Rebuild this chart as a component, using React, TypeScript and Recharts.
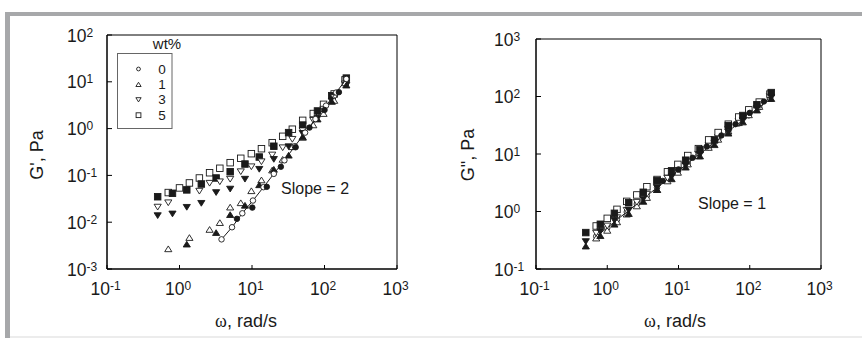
import { ScatterChart, Scatter, XAxis, YAxis, ReferenceArea } from 'recharts'

const SANS = '"Liberation Sans", Arial, sans-serif'
const SERIF = '"Liberation Serif", "Times New Roman", serif'
const INK = '#1a1a1a'

// frequency grids, rad/s
const wOdd = [0.7, 1.0, 1.37, 1.88, 2.6, 3.6, 5.0, 7.0, 9.8, 13.5, 19, 26.5, 36, 50, 70, 97, 136, 192]
const wEven = [0.5, 0.8, 1.26, 2.0, 3.2, 5.0, 8.0, 12.6, 20, 32, 50, 80, 126, 200]

const xTicks = [0.1, 1, 10, 100, 1000]
const gpTicks = [0.001, 0.01, 0.1, 1, 10, 100]
const gppTicks = [0.1, 1, 10, 100, 1000]

// G', Pa
const gp0OpenW = [3.8, 5.3, 7.35, 10.3, 14.4, 20, 28, 39, 54, 75, 105, 145, 200]
const gp0Open = [0.0043, 0.0078, 0.0155, 0.029, 0.056, 0.108, 0.21, 0.42, 0.82, 1.6, 3.1, 5.9, 11.5]
const gp0FilledW = [6.2, 10.1, 16, 25, 40, 62, 100, 158]
const gp0Filled = [0.0118, 0.0205, 0.057, 0.153, 0.4, 1.05, 2.5, 6.0]
const gp1OpenW = [0.7, 1.37, 2.6, 3.6, 5.0, 7.0, 9.8, 13.5, 19, 26.5, 36, 50, 70, 97, 136, 192]
const gp1Open = [0.0027, 0.0047, 0.007, 0.0098, 0.021, 0.026, 0.047, 0.08, 0.13, 0.22, 0.41, 0.65, 1.2, 2.1, 4.0, 9.5]
const gp1FilledW = [1.26, 3.2, 5.0, 8.0, 12.6, 20, 32, 50, 80, 126, 200]
const gp1Filled = [0.0034, 0.006, 0.0145, 0.023, 0.063, 0.135, 0.27, 0.67, 1.6, 3.8, 8.5]
const gp3OpenW = [0.5, 0.7, 1.88, 2.6, 3.6, 5.0, 7.0, 9.8, 13.5, 19, 26.5, 36, 50, 70, 97, 136, 192]
const gp3Open = [0.021, 0.026, 0.046, 0.068, 0.073, 0.083, 0.12, 0.153, 0.196, 0.273, 0.39, 0.59, 0.9, 1.5, 2.6, 4.6, 9.0]
const gp3Filled = [0.0138, 0.015, 0.0208, 0.0253, 0.043, 0.051, 0.083, 0.135, 0.22, 0.41, 0.79, 1.66, 3.9, 8.5]
const gp5Open = [0.043, 0.054, 0.069, 0.088, 0.114, 0.142, 0.187, 0.232, 0.291, 0.372, 0.5, 0.684, 0.97, 1.5, 2.1, 3.3, 5.5, 11]
const gp5Filled = [0.035, 0.0415, 0.049, 0.0655, 0.088, 0.12, 0.175, 0.247, 0.42, 0.82, 1.19, 2.38, 5.05, 12]

// G", Pa
const gpp0Open = [0.37, 0.52, 0.72, 0.98, 1.35, 1.88, 2.6, 3.6, 5.0, 6.9, 9.6, 13.2, 18, 25, 34, 47, 65, 92]
const gpp0FilledW = [6.0, 10, 15.8, 25, 40, 63, 100, 158]
const gpp0Filled = [3.4, 5.4, 8.6, 13.5, 21, 33, 52, 82]
const gpp1Open = [0.345, 0.47, 0.66, 0.9, 1.25, 1.75, 2.4, 3.4, 4.8, 6.7, 9.3, 13, 18, 25, 35, 48, 67, 93]
const gpp1Filled = [0.25, 0.38, 0.6, 0.92, 1.5, 2.4, 3.7, 5.9, 9.2, 14.5, 23, 36, 58, 92]
const gpp3Open = [0.42, 0.56, 0.78, 1.05, 1.45, 2.0, 2.7, 3.8, 5.3, 7.3, 10, 14, 19.5, 27, 37, 52, 72, 100]
const gpp3Filled = [0.3, 0.45, 0.7, 1.05, 1.65, 2.6, 4.0, 6.3, 9.8, 15.5, 24, 38, 62, 98]
const gpp5Open = [0.56, 0.76, 1.09, 1.5, 1.94, 2.7, 3.6, 4.9, 6.6, 9.4, 12.4, 17.6, 23.6, 33, 44, 58.6, 80, 110]
const gpp5Filled = [0.43, 0.6, 0.93, 1.42, 2.16, 3.44, 5.1, 7.8, 12, 17.6, 31, 46.7, 72, 117]

const legendRows = ['0', '1', '3', '5']

type Kind = 'o' | 'up' | 'dn' | 'sq'
const legendKinds: Kind[] = ['o', 'up', 'dn', 'sq']

const pts = (w: number[], g: number[]) => w.map((x, i) => ({ w: x, g: g[i] }))

function Marker({ kind, filled, cx, cy, s = 6.5 }: { kind: Kind; filled: boolean; cx: number; cy: number; s?: number }) {
  const style = { fill: filled ? INK : '#fff', stroke: INK, strokeWidth: 0.9 }
  if (kind === 'o') return <circle cx={cx} cy={cy} r={s / 2 - 0.5} {...style} />
  if (kind === 'sq') return <rect x={cx - s / 2} y={cy - s / 2} width={s} height={s} {...style} />
  const h = s * 0.88
  const w = s * 1.1
  if (kind === 'up')
    return <path d={`M${cx},${cy - h / 2}L${cx + w / 2},${cy + h / 2}L${cx - w / 2},${cy + h / 2}Z`} {...style} />
  return <path d={`M${cx},${cy + h / 2}L${cx + w / 2},${cy - h / 2}L${cx - w / 2},${cy - h / 2}Z`} {...style} />
}

interface Series {
  data: { w: number; g: number }[]
  kind: Kind
  filled: boolean
  line?: boolean
}

const leftSeries: Series[] = [
  { data: pts(wOdd, gp5Open), kind: 'sq', filled: false },
  { data: pts(wEven, gp5Filled), kind: 'sq', filled: true },
  { data: pts(gp3OpenW, gp3Open), kind: 'dn', filled: false },
  { data: pts(wEven, gp3Filled), kind: 'dn', filled: true },
  { data: pts(gp1OpenW, gp1Open), kind: 'up', filled: false },
  { data: pts(gp1FilledW, gp1Filled), kind: 'up', filled: true },
  { data: pts(gp0OpenW, gp0Open), kind: 'o', filled: false, line: true },
  { data: pts(gp0FilledW, gp0Filled), kind: 'o', filled: true },
]

const rightSeries: Series[] = [
  { data: pts(wOdd, gpp0Open), kind: 'o', filled: false, line: true },
  { data: pts(wOdd, gpp1Open), kind: 'up', filled: false },
  { data: pts(wOdd, gpp3Open), kind: 'dn', filled: false },
  { data: pts(wOdd, gpp5Open), kind: 'sq', filled: false },
  { data: pts(wEven, gpp1Filled), kind: 'up', filled: true },
  { data: pts(wEven, gpp3Filled), kind: 'dn', filled: true },
  { data: pts(gpp0FilledW, gpp0Filled), kind: 'o', filled: true },
  { data: pts(wEven, gpp5Filled), kind: 'sq', filled: true },
]

const exp = (v: number) => String(Math.round(Math.log10(v)))

function XTick({ x, y, payload }: any) {
  return (
    <g>
      <line x1={x} y1={y} x2={x} y2={y - 4} stroke="#000" />
      <text x={x - 1.5} y={y + 26} textAnchor="middle" fontSize={17.5} fill={INK} fontFamily={SANS}>
        10
        <tspan dy={-5} fontSize={12}>
          {exp(payload.value)}
        </tspan>
      </text>
    </g>
  )
}

function YTick({ x, y, payload, off }: any) {
  return (
    <g>
      <line x1={x} y1={y} x2={x + 5} y2={y} stroke="#000" />
      <text x={x - off} y={y + 6.5} textAnchor="start" fontSize={17.5} fill={INK} fontFamily={SANS}>
        10
        <tspan dy={-5} fontSize={12}>
          {exp(payload.value)}
        </tspan>
      </text>
    </g>
  )
}

function Panel({ left, margin, yTicks, series, off }: { left: number; margin: any; yTicks: number[]; series: Series[]; off: number }) {
  const y0 = yTicks[0]
  const y1 = yTicks[yTicks.length - 1]
  return (
    <div style={{ position: 'absolute', left, top: 0 }}>
      <ScatterChart width={431} height={338} margin={margin}>
        <XAxis
          dataKey="w"
          type="number"
          scale="log"
          domain={[0.1, 1000]}
          ticks={xTicks}
          interval={0}
          allowDataOverflow
          height={30}
          tickLine={false}
          tickSize={0}
          tickMargin={0}
          axisLine={{ stroke: '#000' }}
          tick={(p: any) => <XTick {...p} />}
        />
        <YAxis
          dataKey="g"
          type="number"
          scale="log"
          domain={[y0, y1]}
          ticks={yTicks}
          interval={0}
          allowDataOverflow
          width={60}
          tickLine={false}
          tickSize={0}
          tickMargin={0}
          axisLine={{ stroke: '#000' }}
          tick={(p: any) => <YTick {...p} off={off} />}
        />
        <ReferenceArea x1={0.1} x2={1000} y1={y0} y2={y1} fill="none" stroke="#000" strokeOpacity={1} ifOverflow="visible" />
        {series.map((s, i) => (
          <Scatter
            key={i}
            data={s.data}
            isAnimationActive={false}
            line={s.line ? { stroke: INK, strokeWidth: 1 } : false}
            lineType="joint"
            shape={(p: any) => <Marker kind={s.kind} filled={s.filled} cx={p.cx} cy={p.cy} />}
          />
        ))}
      </ScatterChart>
    </div>
  )
}

export default function App() {
  return (
    <div style={{ position: 'absolute', left: 0, top: 0, width: 862, height: 338, background: '#fff', overflow: 'hidden' }}>
      <div style={{ position: 'absolute', left: 5, top: 12, width: 857, height: 4, background: '#a7a8aa' }} />
      <div style={{ position: 'absolute', left: 5, top: 12, width: 5, height: 326, background: '#a7a8aa' }} />
      <div style={{ position: 'absolute', left: 10, top: 336, width: 852, height: 2, background: '#ececec' }} />
      <Panel left={0} margin={{ top: 35, right: 34, bottom: 39, left: 47 }} yTicks={gpTicks} series={leftSeries} off={40} />
      <Panel left={431} margin={{ top: 39, right: 41, bottom: 39, left: 45 }} yTicks={gppTicks} series={rightSeries} off={42} />
      <svg width={862} height={338} style={{ position: 'absolute', left: 0, top: 0, pointerEvents: 'none' }}>
        <g fontFamily={SANS} fill={INK}>
          <text x={43} y={155} fontSize={18} textAnchor="middle" transform="rotate(-90 43 155)">
            G', Pa
          </text>
          <text x={474} y={155} fontSize={18} textAnchor="middle" transform="rotate(-90 474 155)">
            G", Pa
          </text>
          <text x={246} y={327} fontSize={18} textAnchor="middle">
            <tspan fontFamily={SERIF}>ω</tspan>, rad/s
          </text>
          <text x={675} y={327} fontSize={18} textAnchor="middle">
            <tspan fontFamily={SERIF}>ω</tspan>, rad/s
          </text>
          <text x={281} y={194} fontSize={16}>
            Slope = 2
          </text>
          <text x={698} y={209} fontSize={16}>
            Slope = 1
          </text>
          <rect x={117.5} y={53.5} width={54.5} height={75} fill="#fff" stroke="#666" strokeWidth={1} />
          <text x={167} y={49} fontSize={15} textAnchor="middle">
            wt%
          </text>
          {legendRows.map((r, i) => (
            <g key={r}>
              <Marker kind={legendKinds[i]} filled={false} cx={138.5} cy={69 + i * 15.4} s={4.8} />
              <text x={162} y={73.5 + i * 15.4} fontSize={13.5} textAnchor="middle">
                {r}
              </text>
            </g>
          ))}
        </g>
      </svg>
    </div>
  )
}
